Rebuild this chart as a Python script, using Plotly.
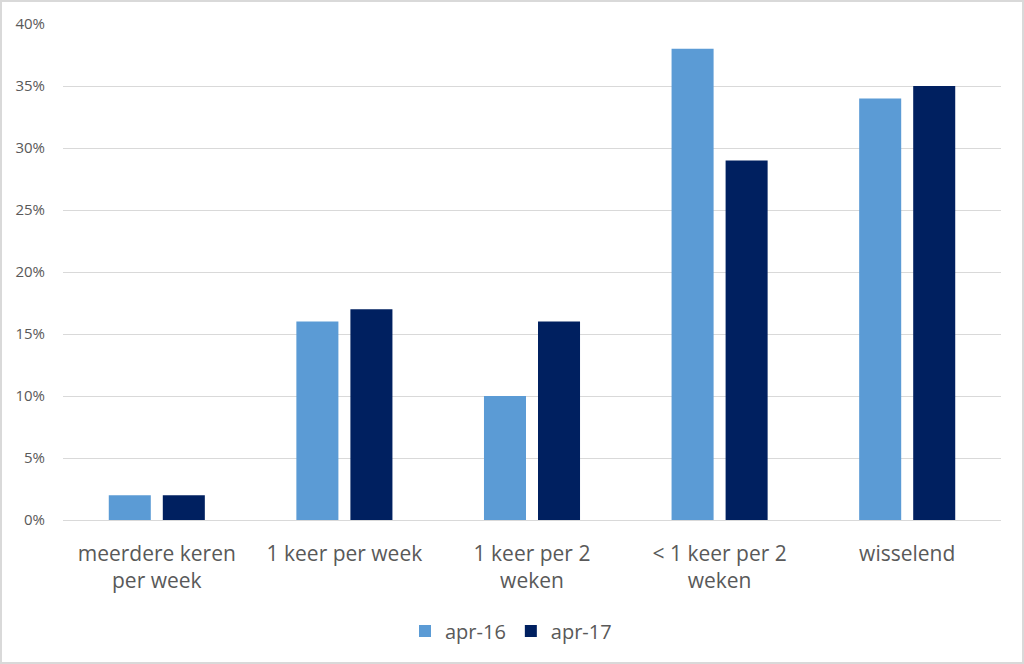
import plotly.graph_objects as go

categories = ["meerdere keren<br>per week", "1 keer per week", "1 keer per 2<br>weken", "< 1 keer per 2<br>weken", "wisselend"]
apr16 = [0.02, 0.16, 0.10, 0.38, 0.34]
apr17 = [0.02, 0.17, 0.16, 0.29, 0.35]
ytick_vals = [0, 0.05, 0.10, 0.15, 0.20, 0.25, 0.30, 0.35, 0.40]
ytick_text = ["0%", "5%", "10%", "15%", "20%", "25%", "30%", "35%", "40%"]

W, H = 1024, 664
L, R, T, B = 63, 23, 24, 144
pw, ph = W - L - R, H - T - B

fig = go.Figure()
fig.add_trace(go.Bar(name="apr-16", x=categories, y=apr16, marker_color="#5B9BD5", marker_line_width=0))
fig.add_trace(go.Bar(name="apr-17", x=categories, y=apr17, marker_color="#002060", marker_line_width=0))

font = "Open Sans, Liberation Sans, sans-serif"
fig.update_layout(
    width=W, height=H,
    margin=dict(l=L, r=R, t=T, b=B, pad=0),
    paper_bgcolor="white", plot_bgcolor="white",
    barmode="group", bargap=0.424, bargroupgap=0.222,
    font=dict(family=font, color="#595959"),
    showlegend=True,
    legend=dict(orientation="h", x=(511 - L) / pw, xanchor="center", y=-(631 - 520) / ph, yanchor="middle",
                font=dict(size=20, color="#595959"), itemwidth=30, traceorder="normal"),
    xaxis=dict(tickfont=dict(size=21, color="#595959"), showgrid=False, showline=False,
               ticks="", ticklabelstandoff=19),
    yaxis=dict(range=[0, 0.40], tickvals=ytick_vals, ticktext=ytick_text,
               tickfont=dict(size=15, color="#595959"), showgrid=True, gridcolor="#D9D9D9",
               gridwidth=1, zeroline=True, zerolinecolor="#D9D9D9", zerolinewidth=1,
               showline=False, ticks="", ticklabelstandoff=17),
    shapes=[dict(type="rect", xref="paper", yref="paper",
                 x0=-(L - 1) / pw, x1=1 + (R - 1) / pw, y0=-(B - 1) / ph, y1=1 + (T - 1) / ph,
                 line=dict(color="#D9D9D9", width=2), fillcolor="rgba(0,0,0,0)", layer="above")],
)

fig.write_html("out.html")
